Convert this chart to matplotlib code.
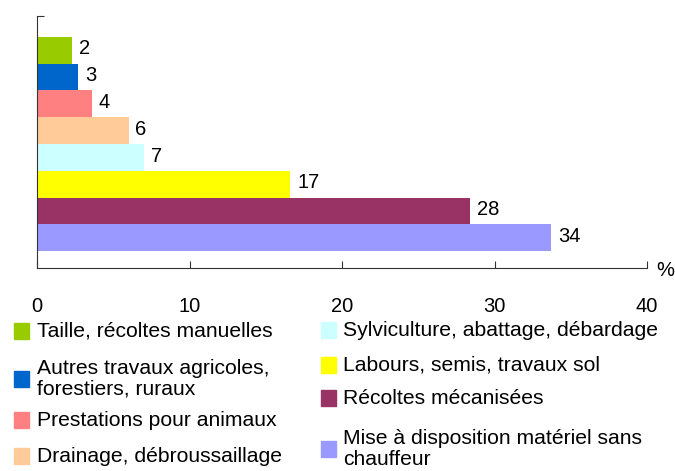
import matplotlib.pyplot as plt
from matplotlib.patches import Rectangle

plt.rcParams['font.family'] = ['Liberation Sans', 'DejaVu Sans']

# data (top to bottom)
categories = ['Taille, récoltes manuelles',
              'Autres travaux agricoles,\nforestiers, ruraux',
              'Prestations pour animaux',
              'Drainage, débroussaillage',
              'Sylviculture, abattage, débardage',
              'Labours, semis, travaux sol',
              'Récoltes mécanisées',
              'Mise à disposition matériel sans\nchauffeur']
values = [2.3, 2.7, 3.6, 6.0, 7.0, 16.6, 28.4, 33.7]
labels = ['2', '3', '4', '6', '7', '17', '28', '34']
colors = ['#99CC00', '#0066CC', '#FF8080', '#FFCC99',
          '#CCFFFF', '#FFFF00', '#993366', '#9999FF']
xticks = [0, 10, 20, 30, 40]

W, H = 675, 471
fig = plt.figure(figsize=(W / 100, H / 100), dpi=100)
ax = fig.add_axes([37 / W, (H - 268) / H, 610 / W, 252 / H])

pos = list(range(len(values)))
ax.barh(pos, values, height=1.0, color=colors, edgecolor='none')
for p, v, lab in zip(pos, values, labels):
    ax.annotate(lab, (v, p), xytext=(5, 1), textcoords='offset points',
                va='center', ha='left', fontsize=14.5)

top = -0.5 - 0.78
ax.set_ylim(7.5 + 0.63, top)
ax.set_xlim(0, 40)
ax.set_xticks(xticks)
ax.set_xticklabels([str(t) for t in xticks], fontsize=14.5)
ax.tick_params(axis='x', direction='in', length=5, pad=21, width=0.8, color='#333333')
ax.set_yticks([top])
ax.set_yticklabels([''])
ax.tick_params(axis='y', direction='in', length=5, width=0.8, color='#333333')
for s in ['top', 'right']:
    ax.spines[s].set_visible(False)
for s in ['left', 'bottom']:
    ax.spines[s].set_color('#333333')
    ax.spines[s].set_linewidth(0.8)

fig.text(665 / W, 1 - 270 / H, '%', fontsize=14.5, ha='center', va='center')

# manual legend
col_x = [14, 321]
txt_x = [37, 343]
rows_y = [[331, 379, 420, 456], [330, 365, 398, 449]]
for i, (cat, c) in enumerate(zip(categories, colors)):
    col = i // 4
    yc = rows_y[col][i % 4]
    fig.patches.append(Rectangle((col_x[col] / W, 1 - (yc + 8) / H), 15 / W, 16 / H,
                                 transform=fig.transFigure, color=c, figure=fig))
    fig.text(txt_x[col] / W, 1 - yc / H, cat, fontsize=15.2, ha='left', va='center',
             linespacing=1.12)

fig.savefig('out.png', dpi=100)
